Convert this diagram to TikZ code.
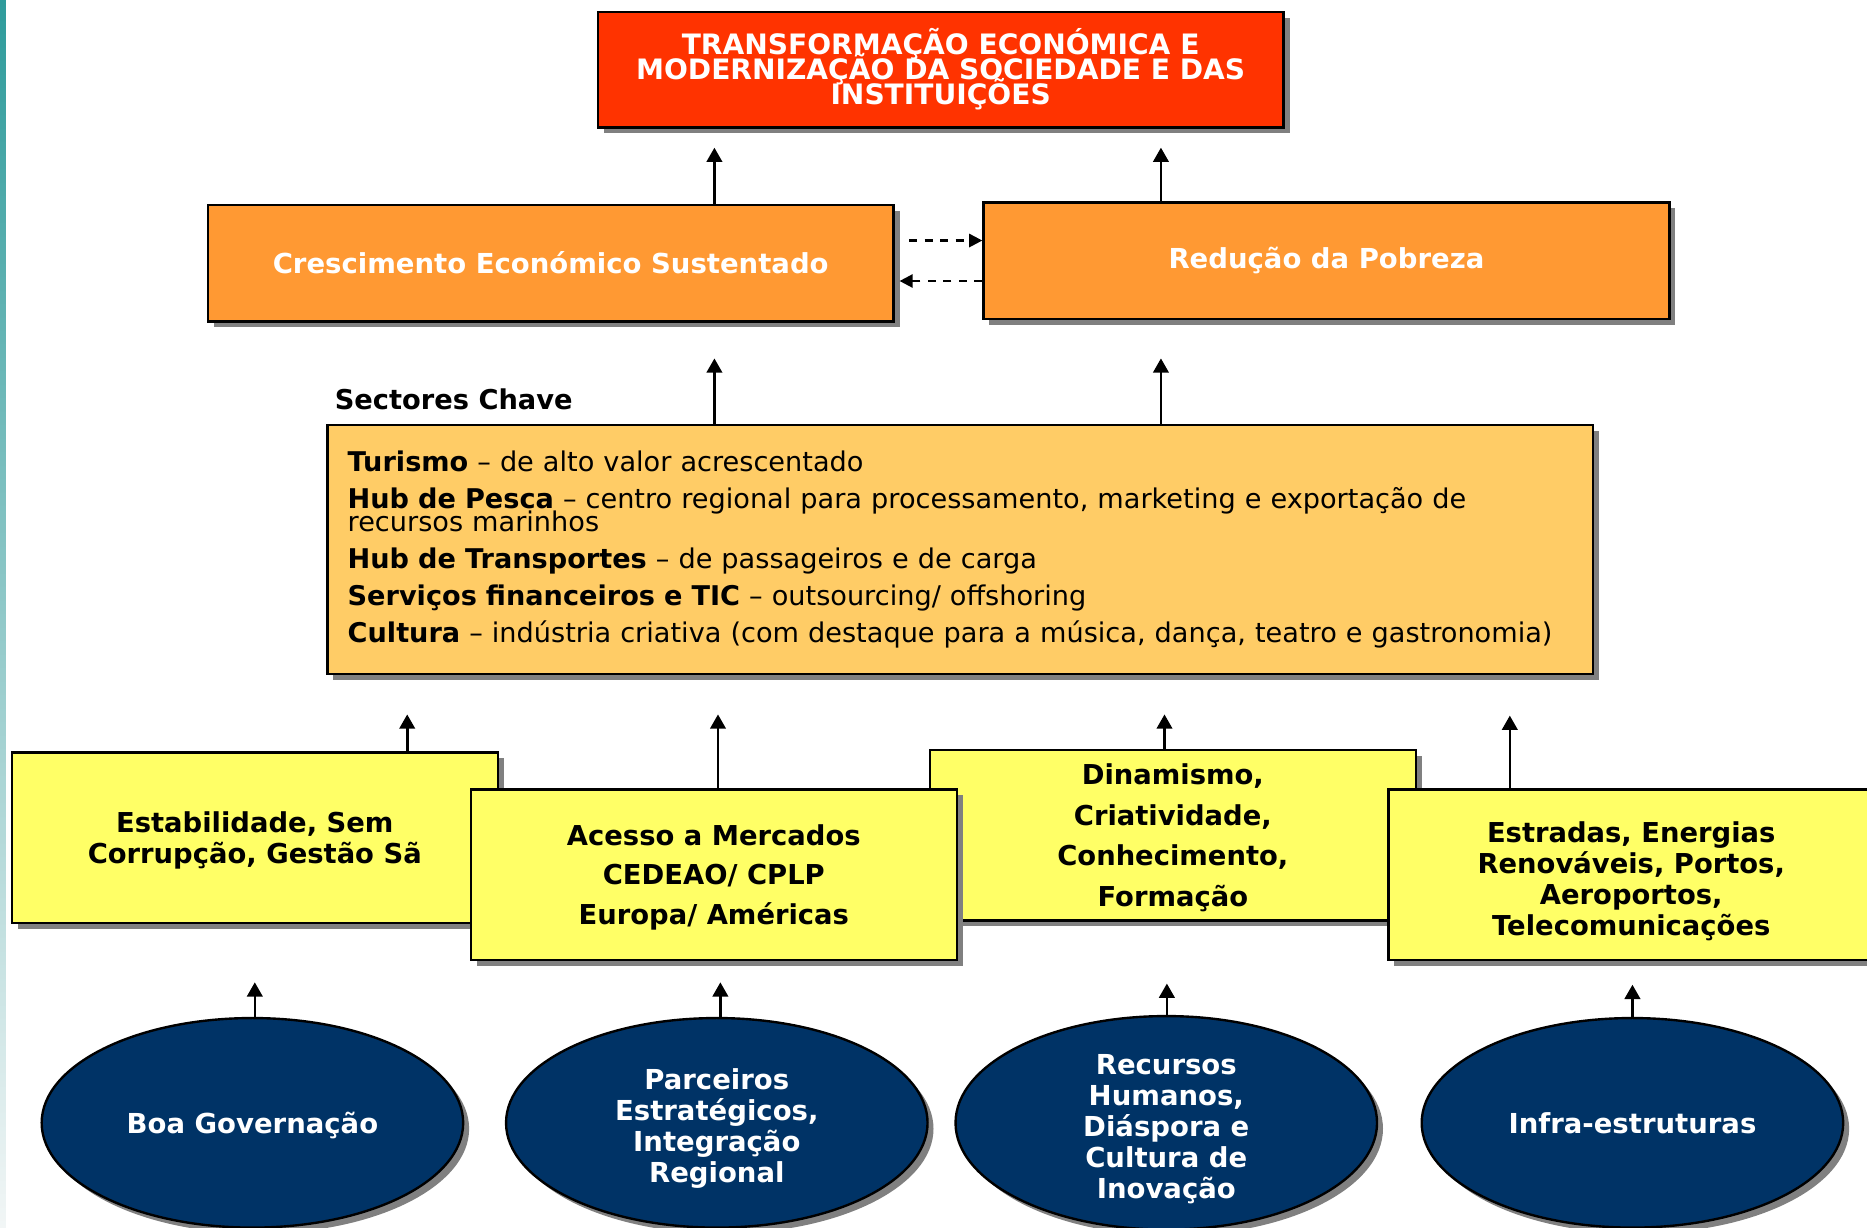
\documentclass[tikz,border=0pt]{standalone}
\usepackage{fontspec}
\setmainfont{DejaVu Sans}
\usetikzlibrary{shapes.geometric,shadows,arrows.meta}
\definecolor{cRed}{HTML}{FF3300}
\definecolor{cOrange}{HTML}{FF9933}
\definecolor{cSect}{HTML}{FFCC66}
\definecolor{cYellow}{HTML}{FFFF66}
\definecolor{cNavy}{HTML}{003366}
\definecolor{cShadow}{HTML}{808080}
\definecolor{cTeal}{HTML}{2E9B9B}
\definecolor{cPale}{HTML}{F2F6F6}
\newcommand\myfs[2]{\fontsize{#1pt}{#2pt}\selectfont\lineskiplimit=-100pt\lineskip=0pt}
\begin{document}
\begin{tikzpicture}[x=1pt,y=-1pt,
  shade box/.style={draw=black,line width=2pt,inner sep=0pt,align=center,
     drop shadow={shadow xshift=5pt,shadow yshift=-5pt,fill=cShadow,opacity=1}},
  rectbox/.style={shade box,rectangle},
  redbox/.style={rectbox,fill=cRed,text=white,font=\myfs{23.6}{21}\bfseries,
     minimum width=576pt,minimum height=97pt},
  orangebox/.style={rectbox,fill=cOrange,text=white,font=\myfs{23.1}{26}\bfseries,
     minimum width=576pt,minimum height=98pt},
  sectbox/.style={rectbox,fill=cSect,text=black,font=\myfs{22.8}{31},
     minimum width=1063pt,minimum height=209pt,text width=1029pt,align=left},
  yellowbox/.style={rectbox,fill=cYellow,text=black,text depth=0pt,
     minimum width=408pt,minimum height=143pt},
  oval/.style={shade box,ellipse,fill=cNavy,text=white,font=\myfs{23.1}{26}\bfseries,
     text depth=0pt,minimum width=354pt,minimum height=176pt},
  uparrow/.style={line width=2.2pt,-{Triangle[length=12pt,width=13pt]}},
  dasharrow/.style={line width=2pt,dash pattern=on 7pt off 6pt,-{Triangle[length=11pt,width=11pt]}},
  label/.style={inner sep=0pt,font=\myfs{22.9}{26}\bfseries,text=black}
]
\useasboundingbox (0,0) rectangle (1568,1031);
\clip (0,0) rectangle (1568,1031);
\fill[white] (0,0) rectangle (1568,1031);
\shade[top color=cTeal,bottom color=cPale] (0,0) rectangle (5,1031);

% top level
\node[redbox] (top) at (790,58.5) {TRANSFORMAÇÃO ECONÓMICA E\\MODERNIZAÇÃO DA SOCIEDADE E DAS\\INSTITUIÇÕES};

% second level
\node[orangebox] (grow) at (462.5,221) {Crescimento Económico Sustentado};
\node[orangebox] (pov) at (1114,219) {Redução da Pobreza};

\coordinate (ta) at (600,124);
\coordinate (tb) at (975,124);
\draw[uparrow] (grow.north -| ta) -- (ta);
\draw[uparrow] (pov.north -| tb) -- (tb);

\coordinate (da) at (0,202);
\coordinate (db) at (0,236);
\draw[dasharrow] (grow.east |- da) ++(12,0) -- (pov.west |- da);
\draw[dasharrow] (pov.west |- db) -- ([xshift=4pt]grow.east |- db);

% key sectors
\node[label,anchor=west] (sclabel) at (281,335) {Sectores Chave};
\node[sectbox] (sect) at (806.5,461.5) {%
\textbf{Turismo} – de alto valor acrescentado\\
\textbf{Hub de Pesca} – centro regional para processamento, marketing e exportação de\\[-12pt]
recursos marinhos\\
\textbf{Hub de Transportes} – de passageiros e de carga\\
\textbf{Serviços financeiros e TIC} – outsourcing/ offshoring\\
\textbf{Cultura} – indústria criativa (com destaque para a música, dança, teatro e gastronomia)};

\coordinate (sa) at (600,301);
\coordinate (sb) at (975,301);
\draw[uparrow] (sect.north -| sa) -- (sa);
\draw[uparrow] (sect.north -| sb) -- (sb);

% third level (drawing order matters for overlaps)
\node[yellowbox,font=\myfs{23}{26}\bfseries] (y1) at (214,703.5) {Estabilidade, Sem\\Corrupção, Gestão Sã};
\node[yellowbox,font=\myfs{23}{34}\bfseries] (y3) at (985,701.5) {Dinamismo,\\Criatividade,\\Conhecimento,\\Formação};
\node[yellowbox,font=\myfs{23}{33.5}\bfseries] (y2) at (599.5,734.5) {Acesso a Mercados\\CEDEAO/ CPLP\\Europa/ Américas};
\node[yellowbox,font=\myfs{23}{26}\bfseries,text height=101.5pt] (y4) at (1370,734.5) {Estradas, Energias\\Renováveis, Portos,\\Aeroportos,\\Telecomunicações};

\coordinate (ya) at (342,600);
\coordinate (yb) at (603,600);
\coordinate (yc) at (978,600);
\coordinate (yd) at (1268,601);
\draw[uparrow] (y1.north -| ya) -- (ya);
\draw[uparrow] (y2.north -| yb) -- (yb);
\draw[uparrow] (y3.north -| yc) -- (yc);
\draw[uparrow] (y4.north -| yd) -- (yd);

% foundations
\node[oval] (e1) at (212,943) {Boa Governação};
\node[oval,text height=100.8pt] (e2) at (602,943) {Parceiros\\Estratégicos,\\Integração\\Regional};
\node[oval,text height=126.8pt] (e3) at (979.5,943) {Recursos\\Humanos,\\Diáspora e\\Cultura de\\Inovação};
\node[oval] (e4) at (1371,943) {Infra-estruturas};

\coordinate (ea) at (214,825);
\coordinate (eb) at (605,825);
\coordinate (ec) at (980,826);
\coordinate (ed) at (1371,827);
\draw[uparrow] (e1.north -| ea) -- (ea);
\draw[uparrow] (e2.north -| eb) -- (eb);
\draw[uparrow] (e3.north -| ec) -- (ec);
\draw[uparrow] (e4.north -| ed) -- (ed);
\end{tikzpicture}
\end{document}
